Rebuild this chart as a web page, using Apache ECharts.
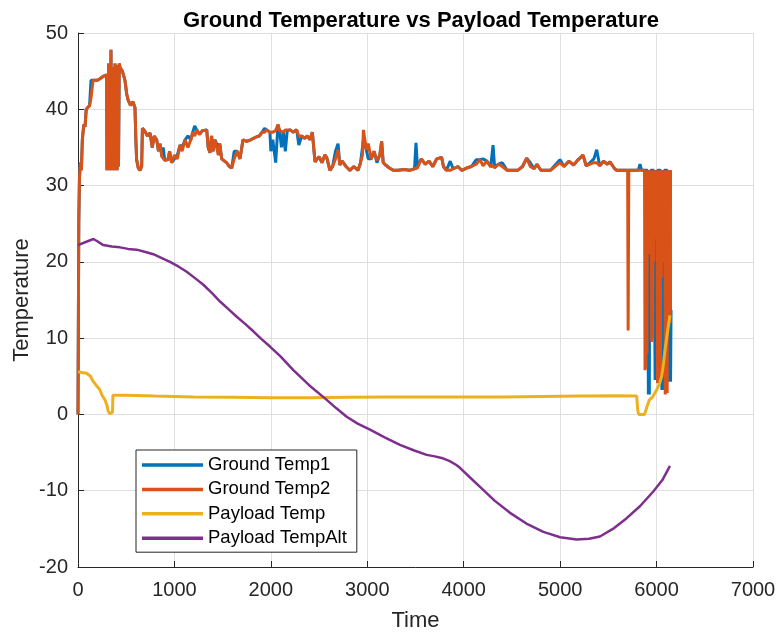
<!DOCTYPE html>
<html>
<head>
<meta charset="utf-8">
<script src="https://cdn.jsdelivr.net/npm/echarts@6/dist/echarts.min.js"></script>
<style>
html,body{margin:0;padding:0;background:#fff;}
#chart{width:780px;height:635px;}
</style>
</head>
<body>
<div id="chart"></div>
<script>
const seriesNames = ['Ground Temp1', 'Ground Temp2', 'Payload Temp', 'Payload TempAlt'];
const xTicks = [0, 1000, 2000, 3000, 4000, 5000, 6000, 7000];
const yTicks = [-20, -10, 0, 10, 20, 30, 40, 50];

const groundTime = [
0,8,15,25,35,45,60,73,85,104,
120,135,156,200,228,260,297,300,305,311,
318,324,330,336,342,349,356,362,370,377,
384,390,397,405,412,420,428,435,460,487,
505,520,545,570,591,600,608,625,643,660,
668,690,720,747,770,790,816,835,850,870,
883,900,933,950,970,1000,1030,1058,1080,1110,
1140,1170,1190,1210,1231,1260,1290,1335,1350,1369,
1385,1400,1420,1438,1455,1470,1490,1504,1540,1570,
1594,1620,1650,1680,1711,1750,1790,1820,1853,1880,
1910,1935,1957,1990,2000,2020,2050,2074,2090,2110,
2130,2150,2170,2200,2230,2268,2290,2320,2350,2380,
2406,2430,2458,2475,2500,2530,2560,2579,2613,2640,
2670,2697,2715,2740,2780,2820,2860,2904,2930,2950,
2960,2975,2990,3010,3040,3070,3100,3130,3149,3165,
3190,3230,3268,3320,3380,3440,3490,3505,3520,3560,
3600,3640,3680,3720,3771,3790,3820,3860,3890,3940,
3980,4030,4080,4130,4169,4200,4240,4280,4304,4320,
4360,4400,4450,4500,4560,4610,4653,4690,4730,4760,
4800,4900,4998,5040,5090,5140,5180,5237,5270,5310,
5350,5379,5410,5450,5490,5517,5560,5586,5700,5705,
5712,5810,5828,5845,
5875,5880,5885,5890,5895,5900,5905,5910,5915,5920,
5925,5930,5935,5940,5945,5950,5955,5960,5965,5970,
5975,5980,5985,5990,5995,6000,6005,6010,6015,6020,
6025,6030,6035,6040,6045,6050,6055,6060,6065,6070,
6075,6080,6085,6090,6095,6100,6105,6110,6115,6120,
6125,6130,6135,6140,6145,6150
];

const groundTemp1 = [
0,25,31,33,32,36,38,37.7,40,40.2,
40.5,43.8,43.8,43.8,44,44.3,44.5,32,44,32,
46,32,45,32,47.8,32,44,32,45.5,32,
46,32.5,45.8,32,45.8,32.5,46,45.5,45,43.8,
42,41.2,40.5,41,40.2,36,33.4,32.3,32,32.5,
37.5,37.2,36.5,36.9,35,36.5,36,34.5,35.5,33.8,
35,33.3,33.4,34.5,33,33.5,34,35.3,35,36,
36.5,36,37,37.8,37.3,36.7,37.2,37.3,35,34.3,
36.5,34.5,36,36,35,35.5,33.5,33.7,33,32.5,
32.3,34.5,34.5,33.5,36,35.8,36,36.2,36.4,36.5,
37,37.5,37.3,37,34.5,36,33,38,37.2,35,
37,34.5,37.2,37.3,37,37.3,35.3,36.5,36.2,36.5,
36,37,33.1,33.4,33.8,33,34,33.7,32,32.5,
34.5,35.5,32.7,33.2,32.5,32,32.5,32,33,35,
36,36,34.7,33.5,33.5,34.5,33,34,35.8,33,
32.7,32.3,32,32,32.1,32,32.2,35.6,32.5,33.5,
32.8,33.2,32.5,33.5,33.7,32.5,32,33.2,32.2,32.5,
32,32.3,32.5,33.4,33.4,33.5,33.2,32.5,35.3,32.5,
32.8,33,32,32,32,32.5,33.6,33,32.2,32.8,
32,32,33.4,32.5,33.2,32.7,33.3,34,32.6,33,
33.5,34.7,32.6,33.2,32.8,33.1,32.3,32,32,32,
32,32,32.8,32,
32,32,32,32,32,32,32,32,2.6,32,
2.6,32,12,32,32,32,32,32,32,32,
32,32,4.5,32,5,32,4.5,32,32,32,
32,32,32,32,32,32,3.2,32,3.2,32,
18,32,32,32,32,32,32,32,32,32,
4.3,32,5,32,4.3,13.7
];

const groundTemp2 = [
0,25,31,33,32,36,38,37.7,40,40.2,
40.5,41.5,43.8,43.8,44,44.3,44.5,32,44,32,
46,32,45,32,47.8,32,44,32,45.5,32,
46,32.5,45.8,32,45.8,32.5,46,45.5,45,43.8,
42,41.2,40.5,41,40.2,36,33.4,32.3,32,32.5,
37.5,37.2,36.5,36.9,35,36.5,36,34.5,35.5,33.8,
33.7,33.3,33.4,34.5,33,34,33.5,35.3,34.5,36,
35,36,37,36.5,37.3,36.7,37.2,37.3,35,34.3,
36.5,34.5,36,36,34,35.5,33.5,33.7,33,32.5,
32.3,33.5,34.5,33.5,36,35.8,36,36.2,36.4,36.5,
37,37,37.3,37,37,37,37.2,38,37.2,37.3,
37,37.3,37.2,37.3,37,37.3,36.5,36.5,36.2,36.5,
36,37,33.1,33.4,33.8,33,34,33.7,32,32.5,
33.5,34.7,32.7,33.2,32.5,32,32.5,32,33,34,
37.3,36,34.7,35.5,33.5,34.5,33.3,34,35.8,33,
32.7,32.3,32,32,32.1,32,32.2,32.2,32.3,33.5,
32.8,33.2,32.5,33.5,33.7,32.5,32,32,32.2,32.5,
32,32.3,32.5,32.8,33.4,32.6,33.2,32.5,32.6,32.3,
32.8,32.5,32,32,32,32.5,33.6,32.5,32.2,32.8,
32,32,33,32.5,33.2,32.7,33.3,34,32.6,32.8,
33,33,32.6,33.2,32.8,33.1,32.3,32,32,11,
32,32,32,32,
32,5.8,32,6,32,8,32,21,32,22,
32,21,32,25,32,9.5,32,10,32,20,
32,23,32,24,32,23,32,4.1,32,5,
32,4.5,32,6,32,18,32,20,32,22,
32,20,32,2.6,32,3,32,2.8,32,14,
32,13,32,12,32,32
];

const payloadTime = [0,20,40,60,90,110,130,145,160,190,210,228,250,280,300,314,330,349,358,362,380,500,800,1200,1600,2000,2400,2800,3200,3600,4000,4400,4800,5200,5600,5794,5805,5815,5875,5890,5910,5925,5960,6000,6030,6053,6070,6088,6110,6139];
const payloadTemp = [5.6,5.8,5.5,5.6,5.4,5.2,5.0,4.6,4.3,3.8,3.5,3.2,2.5,1.9,1.2,0.4,0.1,0,0.3,2.5,2.55,2.5,2.4,2.3,2.25,2.2,2.2,2.25,2.3,2.3,2.3,2.3,2.35,2.4,2.45,2.4,0.5,0,0,0.6,0.8,1.9,2.3,3.2,4,5,6.5,8.5,10.5,13];

const altTime = [0,80,160,200,262,350,435,520,608,700,781,870,954,1040,1127,1210,1300,1390,1473,1560,1646,1730,1818,1900,1991,2100,2233,2400,2561,2680,2786,2900,3028,3180,3339,3480,3616,3700,3771,3850,3920,3961,4060,4169,4320,4480,4650,4826,5000,5171,5300,5413,5560,5690,5830,5966,6060,6139];
const altTemp = [22.2,22.6,23.0,22.7,22.2,22.0,21.9,21.7,21.6,21.3,21.0,20.5,20.0,19.4,18.7,17.9,17.0,15.9,14.8,13.8,12.8,11.9,10.9,9.9,8.9,7.6,5.8,3.8,2.1,0.8,-0.3,-1.2,-2.0,-3.0,-4.0,-4.7,-5.3,-5.5,-5.7,-6.1,-6.6,-7.0,-8.2,-9.5,-11.3,-12.9,-14.3,-15.4,-16.1,-16.4,-16.3,-16.0,-14.9,-13.6,-12.0,-10.1,-8.6,-6.75];

function zip(xs, ys) {
  const n = Math.min(xs.length, ys.length);
  const out = [];
  for (let i = 0; i < n; i++) out.push([xs[i], ys[i]]);
  return out;
}

const FONT = 'Liberation Sans, Arial, sans-serif';
const AXC = '#262626';
const colors = ['#0072BD', '#D95319', '#EDB120', '#7E2F8E'];

const chart = echarts.init(document.getElementById('chart'), null, {renderer: 'canvas'});
chart.setOption({
  animation: false,
  color: colors,
  textStyle: {fontFamily: FONT},
  title: {
    text: 'Ground Temperature vs Payload Temperature',
    left: 416, top: 5, textAlign: 'center',
    textStyle: {fontFamily: FONT, fontSize: 22, fontWeight: 'bold', color: '#000'}
  },
  grid: {left: 78, right: 27, top: 33, bottom: 68, containLabel: false, outerBoundsMode: 'none'},
  legend: {
    orient: 'vertical',
    left: 136, top: 450,
    padding: [5, 10, 4, 6],
    itemWidth: 61, itemHeight: 3.5, itemGap: 4.4,
    icon: 'rect',
    backgroundColor: '#fff',
    borderColor: '#262626', borderWidth: 1,
    textStyle: {fontFamily: FONT, fontSize: 18.5, color: '#000', lineHeight: 20},
    data: seriesNames
  },
  xAxis: {
    type: 'value', min: xTicks[0], max: xTicks[xTicks.length - 1], interval: 1000,
    name: 'Time', nameLocation: 'middle', nameGap: 43, nameMoveOverlap: false,
    nameTextStyle: {fontFamily: FONT, fontSize: 22, color: AXC},
    axisLine: {show: true, onZero: false, lineStyle: {color: AXC, width: 1}},
    axisTick: {show: true, inside: true, length: 6, lineStyle: {color: AXC}},
    axisLabel: {fontFamily: FONT, fontSize: 20, color: AXC, margin: 13, formatter: v => String(v)},
    splitLine: {show: true, lineStyle: {color: '#dfdfdf', width: 1}}
  },
  yAxis: {
    type: 'value', min: yTicks[0], max: yTicks[yTicks.length - 1], interval: 10,
    name: 'Temperature', nameLocation: 'middle', nameGap: 45, nameMoveOverlap: false,
    nameTextStyle: {fontFamily: FONT, fontSize: 22, color: AXC},
    axisLine: {show: true, onZero: false, lineStyle: {color: AXC, width: 1}},
    axisTick: {show: true, inside: true, length: 6, lineStyle: {color: AXC}},
    axisLabel: {fontFamily: FONT, fontSize: 20, color: AXC, margin: 10, formatter: v => String(v)},
    splitLine: {show: true, lineStyle: {color: '#dfdfdf', width: 1}}
  },
  series: [
    {name: seriesNames[0], type: 'line', data: zip(groundTime, groundTemp1), showSymbol: false, symbol: 'none', lineStyle: {width: 3, color: colors[0]}, itemStyle: {color: colors[0]}},
    {name: seriesNames[1], type: 'line', data: zip(groundTime, groundTemp2), showSymbol: false, symbol: 'none', lineStyle: {width: 3, color: colors[1]}, itemStyle: {color: colors[1]}},
    {name: seriesNames[2], type: 'line', data: zip(payloadTime, payloadTemp), showSymbol: false, symbol: 'none', lineStyle: {width: 3, color: colors[2]}, itemStyle: {color: colors[2]}},
    {name: seriesNames[3], type: 'line', data: zip(altTime, altTemp), showSymbol: false, symbol: 'none', lineStyle: {width: 2.5, color: colors[3]}, itemStyle: {color: colors[3]}}
  ]
});
</script>
</body>
</html>
